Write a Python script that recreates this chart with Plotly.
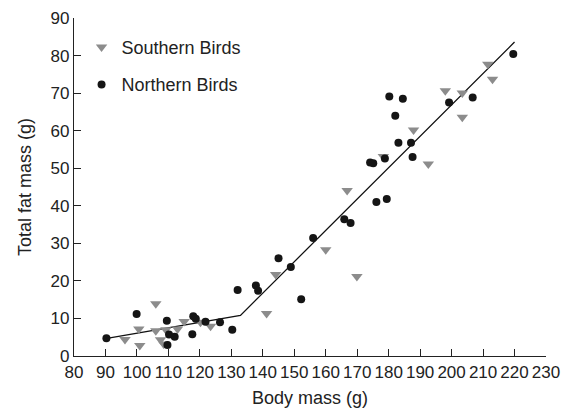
import plotly.graph_objects as go

# Southern Birds (triangles)
south_mass = [96.2, 100.9, 100.6, 106.0, 106.0, 107.5, 108.5, 109.2, 112.9, 115.0, 120.2, 123.4,
              141.2, 144.1, 160.0, 166.8, 169.9, 178.3, 187.9, 192.6, 198.0, 203.4, 203.4, 211.5, 213.0]
south_fat = [4.4, 2.8, 7.2, 13.9, 6.7, 4.3, 3.2, 7.0, 7.2, 9.2, 9.0, 7.9,
             11.3, 21.7, 28.3, 44.1, 21.2, 53.1, 60.2, 51.1, 70.6, 70.0, 63.6, 77.7, 73.7]

# Northern Birds (circles)
north_mass = [90.3, 99.9, 109.5, 110.2, 112.0, 109.7, 117.9, 118.7, 117.6, 121.8, 126.4, 130.3,
              132.0, 137.8, 138.5, 145.0, 148.9, 152.2, 156.0, 165.9, 167.9, 174.1, 175.1, 176.1,
              178.8, 179.4, 180.2, 182.1, 183.1, 184.5, 187.1, 187.6, 199.2, 206.7, 219.6]
north_fat = [4.7, 11.2, 9.4, 5.7, 5.1, 2.9, 10.6, 9.9, 5.8, 9.1, 9.0, 7.0,
             17.6, 18.8, 17.4, 26.0, 23.7, 15.1, 31.4, 36.4, 35.4, 51.5, 51.3, 41.0,
             52.6, 41.8, 69.1, 64.0, 56.8, 68.5, 56.8, 53.0, 67.5, 68.8, 80.4]

# Piecewise (broken-stick) fit
fit_mass = [90.0, 132.9, 220.0]
fit_fat = [4.6, 10.8, 83.6]

x_ticks = list(range(80, 231, 10))
y_ticks = list(range(0, 91, 10))

FONT = "Liberation Sans, Arial, Helvetica, sans-serif"

fig = go.Figure()
fig.add_trace(go.Scatter(x=fit_mass, y=fit_fat, mode="lines",
                         line=dict(color="#111111", width=1.3),
                         showlegend=False, hoverinfo="skip"))
fig.add_trace(go.Scatter(x=south_mass, y=south_fat, mode="markers", name="Southern Birds",
                         legendgroup="s",
                         marker=dict(symbol="triangle-down", size=10, color="#8c8c8c",
                                     line=dict(width=0)), cliponaxis=False))
fig.add_trace(go.Scatter(x=north_mass, y=north_fat, mode="markers", name="Northern Birds",
                         legendgroup="n",
                         marker=dict(symbol="circle", size=8, color="#151515",
                                     line=dict(width=0)), cliponaxis=False))

axis_common = dict(showline=True, linecolor="#222222", linewidth=1.2, ticks="inside",
                   ticklen=7, tickwidth=1.2, tickcolor="#222222", showgrid=False,
                   zeroline=False, automargin=False,
                   tickfont=dict(family=FONT, size=17, color="#222222"))

fig.update_layout(
    width=571, height=413,
    margin=dict(l=74, r=25, t=18, b=57),
    paper_bgcolor="white", plot_bgcolor="white",
    font=dict(family=FONT, color="#222222"),
    xaxis=dict(range=[80, 230], tickvals=x_ticks, ticktext=[str(v) for v in x_ticks],
               title=dict(text="Body mass (g)", font=dict(family=FONT, size=18), standoff=10),
               **axis_common),
    yaxis=dict(range=[0, 90], tickvals=y_ticks, ticktext=[str(v) for v in y_ticks],
               title=dict(text="Total fat mass (g)", font=dict(family=FONT, size=18), standoff=14),
               **axis_common),
    legend=dict(x=0.016, y=0.968, xanchor="left", yanchor="top",
                font=dict(family=FONT, size=18, color="#222222"),
                bgcolor="rgba(0,0,0,0)", tracegroupgap=11),
)

fig.write_html("out.html", config={"displayModeBar": False},
               post_script="document.body.style.margin='0';document.body.style.overflow='hidden';")
